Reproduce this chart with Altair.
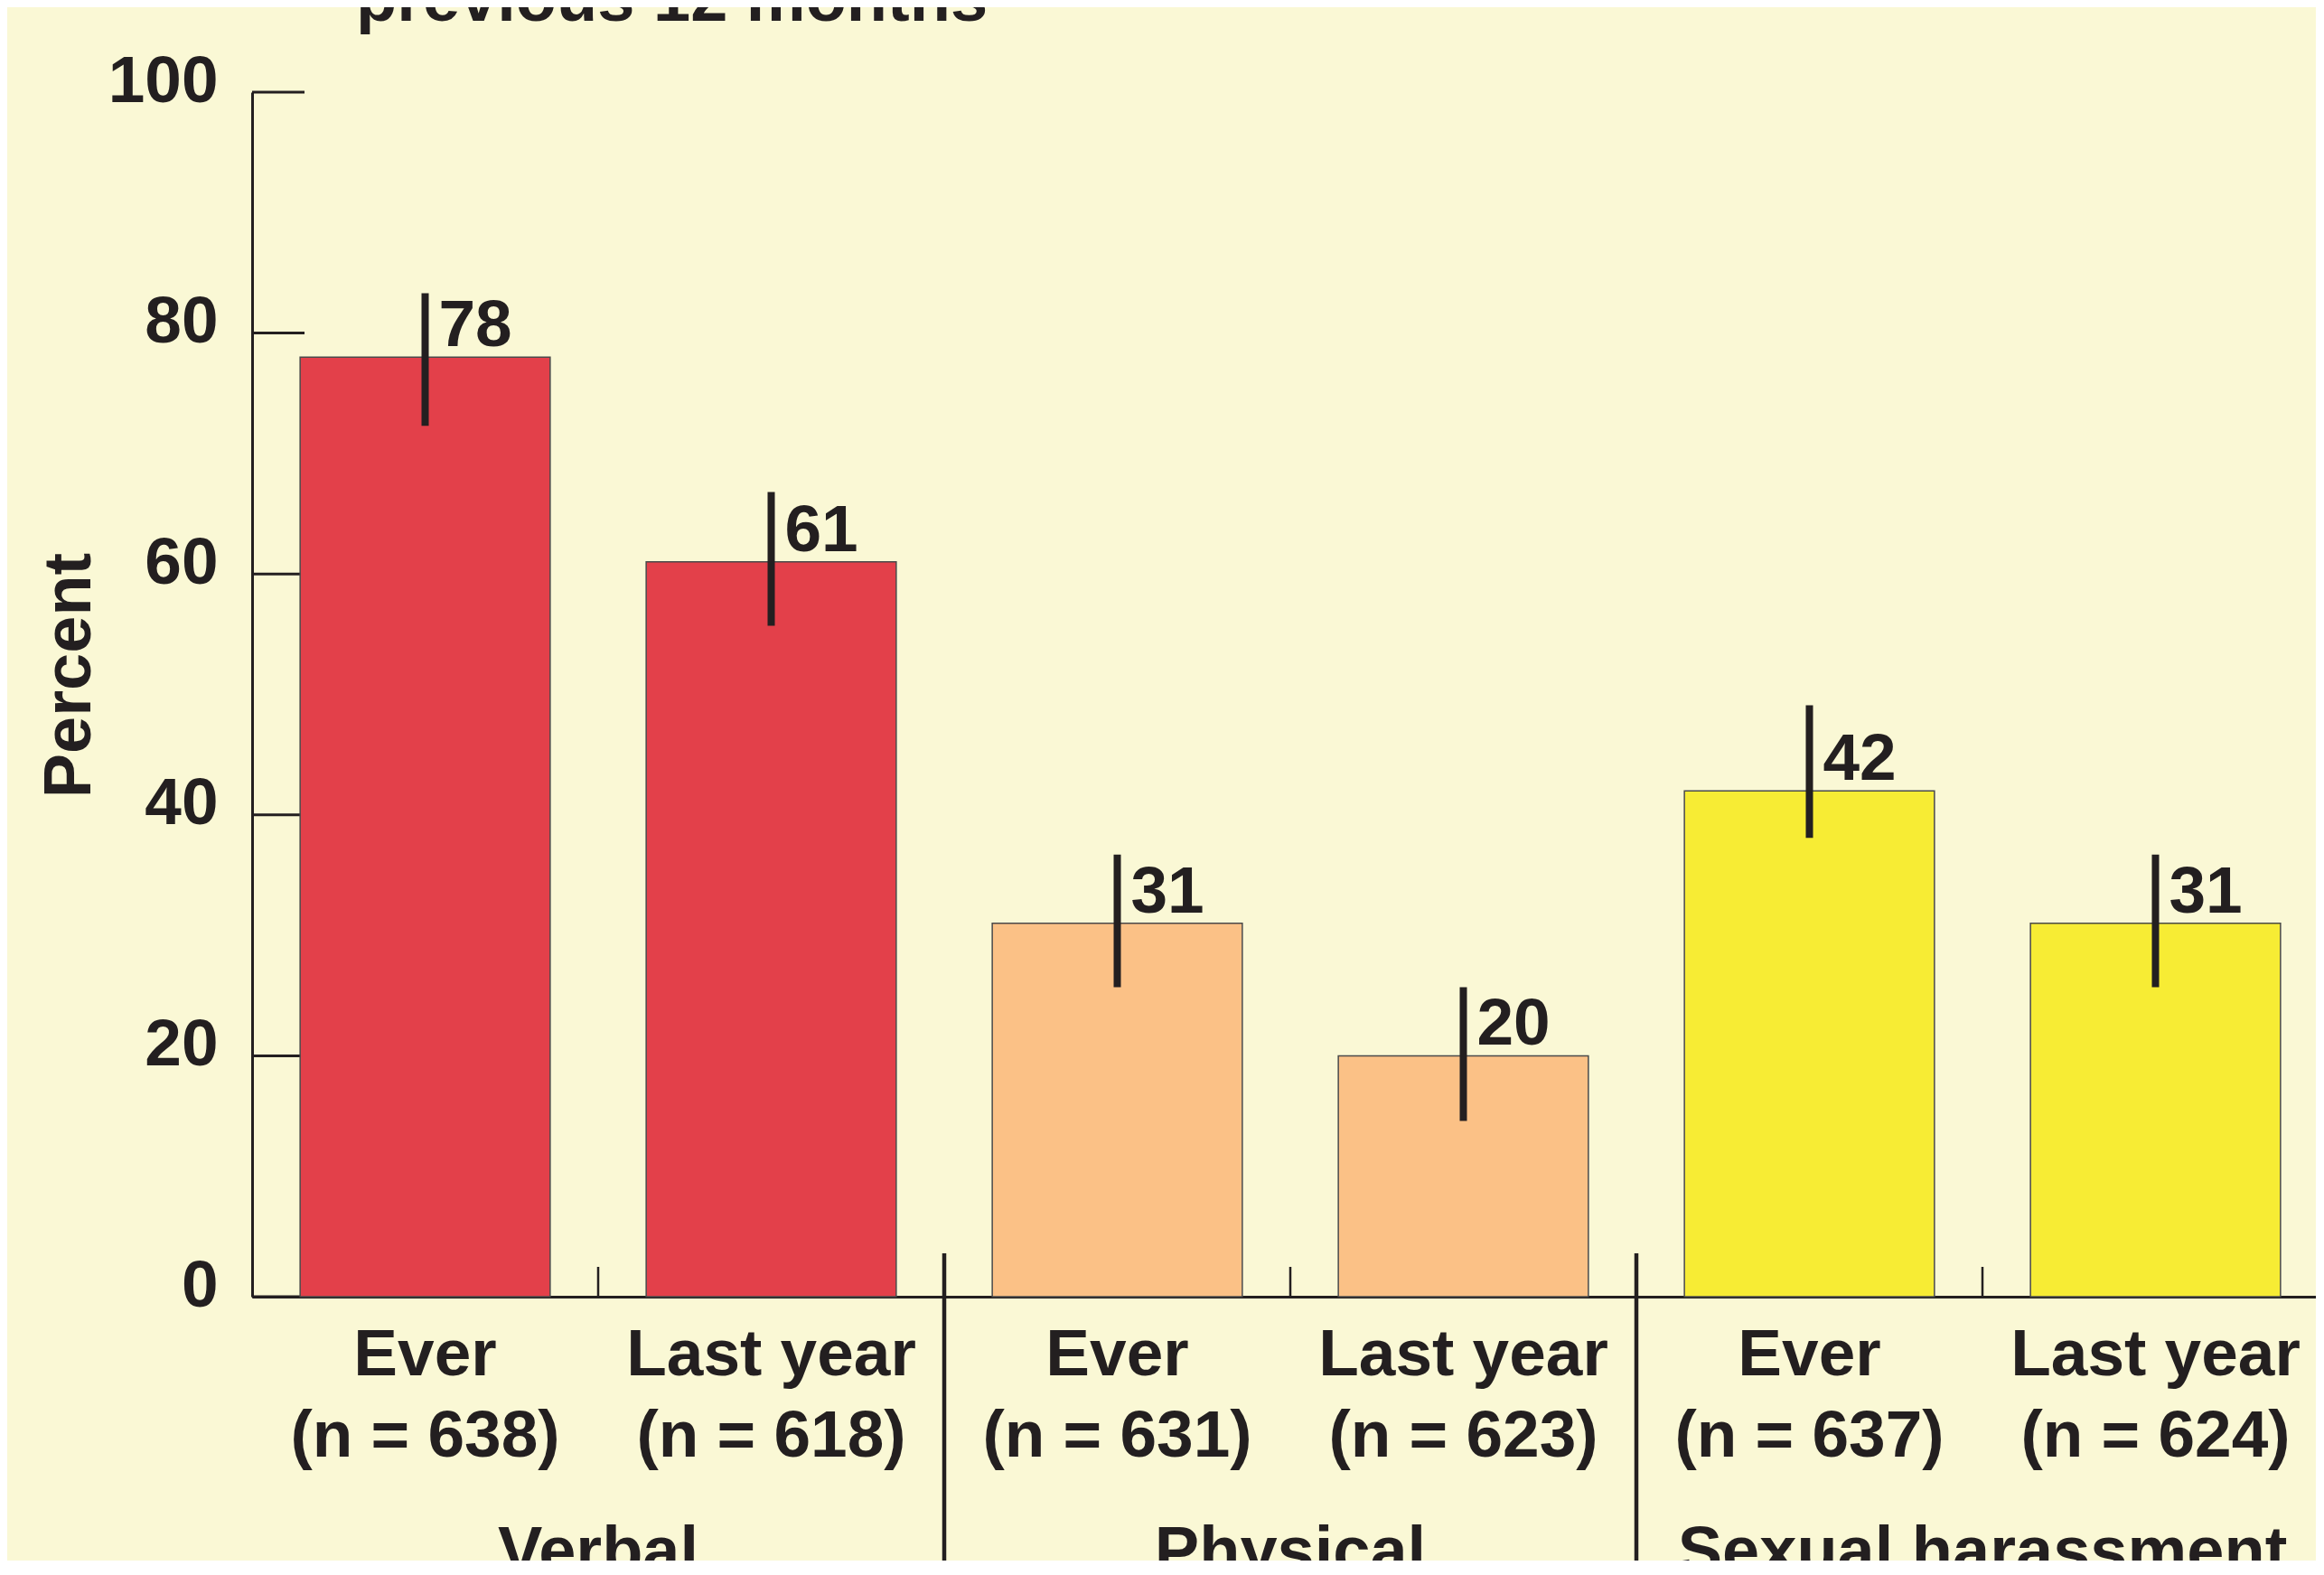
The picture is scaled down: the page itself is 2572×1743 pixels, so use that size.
import altair as alt
import pandas as pd

# ---- data ----
groups = ["Verbal", "Verbal", "Physical", "Physical", "Sexual harassment", "Sexual harassment"]
periods = ["Ever", "Last year", "Ever", "Last year", "Ever", "Last year"]
ns = [638, 618, 631, 623, 637, 624]
values = [78, 61, 31, 20, 42, 31]
ci_low = [72.3, 55.7, 25.7, 14.6, 38.1, 25.7]
ci_high = [83.3, 66.8, 36.7, 25.7, 49.1, 36.7]
y_ticks = [0, 20, 40, 60, 80, 100]
title_lines = ["previous 12 months"]
group_names = ["Verbal", "Physical", "Sexual harassment"]
group_colors = ["#E3404A", "#FBC186", "#F7EC34"]

INK = "#231F20"
BG = "#FAF8D5"
FONT = "Liberation Sans"

labels = [f"{p}|(n = {n})" for p, n in zip(periods, ns)]
df = pd.DataFrame({
    "group": groups, "period": periods, "n": ns, "value": values,
    "lo": ci_low, "hi": ci_high, "label": labels,
})
ticks_df = pd.DataFrame({"t": y_ticks})
title_df = pd.DataFrame({"title": title_lines})

PLOT_H = 1333
xscale = alt.Scale(paddingInner=0, paddingOuter=0, range=[0, 2298])
yscale = alt.Scale(domain=[0, 100], nice=False)

x_enc = alt.X(
    "label:N", sort=None, scale=xscale, title=None,
    axis=alt.Axis(
        labelExpr="split(datum.label, '|')", labelAngle=0,
        labelFont=FONT, labelFontSize=73, labelFontWeight="bold", labelColor=INK,
        labelLineHeight=90, labelPadding=28, ticks=False, tickSize=0,
        domain=True, domainColor=INK, domainWidth=3, labelLimit=0,
    ),
)
y_enc = alt.Y(
    "value:Q", scale=yscale, title="Percent",
    axis=alt.Axis(
        values=y_ticks, ticks=False, tickSize=0, grid=False,
        domain=True, domainColor=INK, domainWidth=3,
        labelFont=FONT, labelFontSize=73, labelFontWeight="bold", labelColor=INK,
        labelPadding=38, labelOffset=-12,
        titleFont=FONT, titleFontSize=74, titleFontWeight="bold", titleColor=INK,
        titleX=-180, titleY=645, titleBaseline="alphabetic", titleAngle=270,
    ),
)

base = alt.Chart(df)

ytick_rules = alt.Chart(ticks_df).mark_rule(color=INK, strokeWidth=3).encode(
    y=alt.Y("t:Q", scale=yscale), x=alt.value(0), x2=alt.value(58)
)

bars = base.mark_bar(
    width=alt.RelativeBandSize(0.7225), stroke="#4a4a4a", strokeWidth=1.5
).encode(
    x=x_enc, y=y_enc,
    color=alt.Color("group:N", scale=alt.Scale(domain=group_names, range=group_colors), legend=None),
)

errbars = base.mark_rule(color=INK, strokeWidth=8).encode(
    x=alt.X("label:N", sort=None, scale=xscale),
    y=alt.Y("lo:Q", scale=yscale), y2="hi:Q",
)

value_text = base.mark_text(
    align="left", baseline="alphabetic", dx=15, dy=-12,
    font=FONT, fontSize=73, fontWeight="bold", color=INK,
).encode(
    x=alt.X("label:N", sort=None, scale=xscale),
    y=alt.Y("value:Q", scale=yscale), text="value:Q",
)

small_ticks = base.transform_filter("datum.period == 'Last year'").mark_rule(
    color=INK, strokeWidth=2.5
).encode(
    x=alt.X("label:N", sort=None, scale=xscale, bandPosition=0),
    y=alt.value(PLOT_H - 33), y2=alt.value(PLOT_H),
)

separators = base.transform_filter(
    "datum.period == 'Ever' && datum.group != 'Verbal'"
).mark_rule(color=INK, strokeWidth=4.5).encode(
    x=alt.X("label:N", sort=None, scale=xscale, bandPosition=0),
    y=alt.value(PLOT_H - 48), y2=alt.value(PLOT_H + 400),
)

group_text = base.transform_filter("datum.period == 'Last year'").mark_text(
    align="center", baseline="alphabetic",
    font=FONT, fontSize=74, fontWeight="bold", color=INK,
).encode(
    x=alt.X("label:N", sort=None, scale=xscale, bandPosition=0),
    y=alt.value(1639), text="group:N",
)

title_text = alt.Chart(title_df).mark_text(
    align="left", baseline="alphabetic",
    font=FONT, fontSize=74, fontWeight="bold", color=INK,
).encode(x=alt.value(115), y=alt.value(-79), text="title:N")

chart = alt.layer(
    ytick_rules, bars, errbars, value_text, small_ticks, separators, group_text, title_text
).properties(
    width=2284, height=PLOT_H,
    autosize=alt.AutoSizeParams(type="none"),
    padding={"left": 271, "top": 94, "right": 0, "bottom": 292},
    background=BG,
).configure_view(stroke=None)

chart.save("out.html", embed_options={"renderer": "svg", "actions": False})
